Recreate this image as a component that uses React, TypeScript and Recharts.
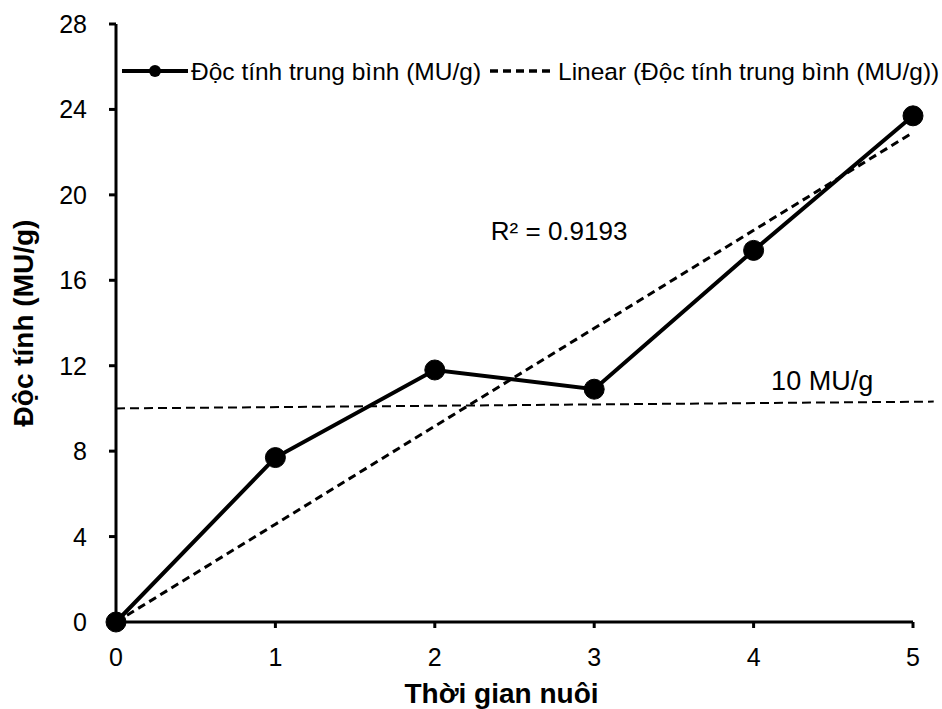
import React from 'react';
import {
  LineChart, Line, XAxis, YAxis, Legend, ReferenceLine, ReferenceDot, Label,
} from 'recharts';

// Thời gian nuôi (x) và độc tính trung bình
const thoiGian = [0, 1, 2, 3, 4, 5];
const docTinh = [0, 7.7, 11.8, 10.9, 17.4, 23.7];
// đường xu hướng tuyến tính (qua gốc toạ độ)
const xuHuong = [0, 4.58, 9.17, 13.75, 18.34, 22.92];
const yTicks = [0, 4, 8, 12, 16, 20, 24, 28];
const xTicks = [0, 1, 2, 3, 4, 5];
// ngưỡng 10 MU/g
const nguong = [{ x: 0, y: 10 }, { x: 5.13, y: 10.32 }];

const tenSeries = 'Độc tính trung bình (MU/g)';
const tenXuHuong = 'Linear (Độc tính trung bình (MU/g))';

const data = thoiGian.map((t, i) => ({ t, docTinh: docTinh[i], xuHuong: xuHuong[i] }));

const FONT = "Arial, 'Liberation Sans', sans-serif";

const XTick = (props: any) => {
  const { x, y, payload } = props;
  return (
    <text x={x} y={y} dy={18} textAnchor="middle" fontSize={25} fill="#000" fontFamily={FONT}>
      {payload.value}
    </text>
  );
};

const YTick = (props: any) => {
  const { x, y, payload } = props;
  return (
    <text x={x} y={y} dy={9} textAnchor="end" fontSize={25} fill="#000" fontFamily={FONT}>
      {payload.value}
    </text>
  );
};

const LegendBox = () => (
  <svg width={942} height={34} style={{ display: 'block', fontFamily: FONT }}>
    <line x1={122} x2={188} y1={15} y2={15} stroke="#000" strokeWidth={4} />
    <circle cx={155} cy={15} r={6} fill="#000" />
    <text x={191} y={23.5} fontSize={24.5} fill="#000">{tenSeries}</text>
    <line x1={490} x2={555} y1={15} y2={15} stroke="#000" strokeWidth={3.5} strokeDasharray="8 5" />
    <text x={558} y={23.5} fontSize={24.5} fill="#000">{tenXuHuong}</text>
  </svg>
);

export default function App() {
  return (
    <div style={{ position: 'absolute', left: 0, top: 0, width: 942, height: 709, background: '#fff' }}>
      <LineChart
        width={942}
        height={709}
        data={data}
        margin={{ top: 24, right: 29, left: 0, bottom: 0 }}
        style={{ fontFamily: FONT }}
      >
        <XAxis
          dataKey="t"
          type="number"
          domain={[0, 5]}
          ticks={xTicks}
          height={87}
          axisLine={{ stroke: '#000', strokeWidth: 3 }}
          tickLine={{ stroke: '#000', strokeWidth: 3 }}
          tickSize={6}
          tickMargin={20}
          tick={<XTick />}
        >
          <Label value="Thời gian nuôi" position="insideBottom" offset={6} dx={-13} fill="#000" fontSize={28} fontWeight="bold" />
        </XAxis>
        <YAxis
          type="number"
          domain={[0, 28]}
          ticks={yTicks}
          width={116}
          axisLine={{ stroke: '#000', strokeWidth: 3 }}
          tickLine={{ stroke: '#000', strokeWidth: 3 }}
          tickSize={7}
          tickMargin={22}
          tick={<YTick />}
        >
          <Label value="Độc tính (MU/g)" angle={-90} position="center" dx={-35} fill="#000" fontSize={28} fontWeight="bold" />
        </YAxis>

        <Legend
          layout="horizontal"
          verticalAlign="middle"
          wrapperStyle={{ top: 56, left: 0, width: 942 }}
          content={() => <LegendBox />}
        />

        {/* đường ngưỡng 10 MU/g */}
        <ReferenceLine
          segment={nguong}
          ifOverflow="visible"
          stroke="#000"
          strokeWidth={2}
          strokeDasharray="9 5"
        />

        <Line
          dataKey="xuHuong"
          type="linear"
          stroke="#000"
          strokeWidth={3}
          strokeDasharray="8 5"
          dot={false}
          activeDot={false}
          isAnimationActive={false}
        />
        <Line
          dataKey="docTinh"
          type="linear"
          stroke="#000"
          strokeWidth={4}
          dot={{ r: 10, fill: '#000', stroke: '#000', strokeWidth: 1 }}
          activeDot={false}
          isAnimationActive={false}
        />

        <ReferenceDot x={2.78} y={18.31} r={0} stroke="none" fill="none"
          label={{ value: 'R² = 0.9193', position: 'center', fill: '#000', fontSize: 26 }} />
        <ReferenceDot x={4.43} y={11.29} r={0} stroke="none" fill="none"
          label={{ value: '10 MU/g', position: 'center', fill: '#000', fontSize: 27 }} />
      </LineChart>
    </div>
  );
}
